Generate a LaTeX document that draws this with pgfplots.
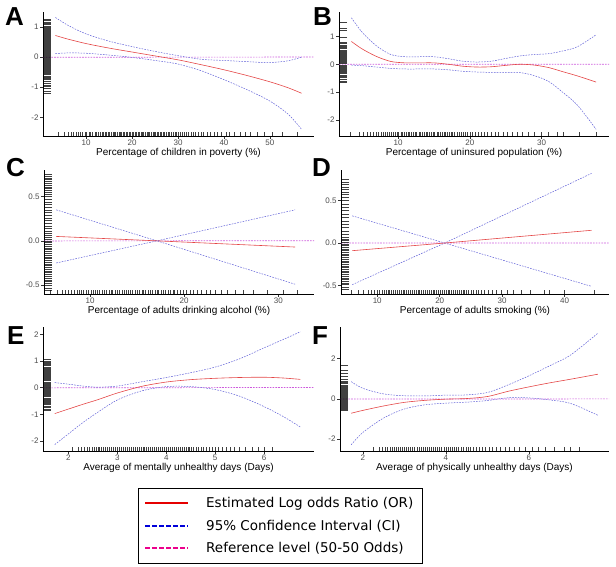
\documentclass[border=0pt]{standalone}
\usepackage{pgfplots}
\pgfplotsset{compat=1.18}
\usepackage{fontspec}
\setmainfont{Liberation Sans}
\newfontfamily\legendfont{DejaVu Sans}
\definecolor{fitred}{RGB}{228,70,70}
\definecolor{ciblue}{RGB}{95,95,215}
\definecolor{refmag}{RGB}{205,90,220}
\definecolor{ticklab}{RGB}{77,77,77}
\pgfplotsset{
 gam/.style={scale only axis, axis x line*=bottom, axis y line*=left,
   axis line style={black, line width=0.6pt},
   tick align=outside, major tick length=2.75pt,
   tick style={black!80, line width=0.5pt},
   /pgf/number format/assume math mode=true,
   tick label style={font=\fontsize{8}{9}\selectfont, text=ticklab},
   xticklabel style={inner sep=1pt},
   yticklabel style={inner sep=1.5pt},
   x label style={at={(axis description cs:0.5,0)}, anchor=center, yshift=-17pt, font=\fontsize{10}{12}\selectfont},
   clip=true,
 },
 fitline/.style={draw=fitred, line width=0.6pt, smooth, no marks},
 ciline/.style={draw=ciblue, line width=0.5pt, dash pattern=on 1.6pt off 1.2pt, smooth, no marks},
 refline/.style={draw=refmag, line width=0.7pt, dash pattern=on 1.6pt off 1.2pt, sharp plot, no marks},
 rugx/.style={only marks, mark=|, mark size=1.9pt, mark options={draw=black, draw opacity=0.75, line width=0.55pt, yshift=1.9pt}},
 rugy/.style={only marks, mark=-, mark size=4pt, mark options={draw=black, draw opacity=0.75, line width=0.55pt, xshift=4pt}},
}
\begin{document}
\begin{tikzpicture}
\path[use as bounding box] (0pt,0pt) rectangle (616pt,567pt);
% ---------------- A
\begin{axis}[gam, at={(43pt,431pt)}, anchor=south west, width=271pt, height=124pt,
  xmin=0.6, xmax=59.6, ymin=-2.62, ymax=1.5, xtick={10,20,30,40,50},
  ytick={-2,-1,0,1}, yticklabels={-2,-1,0,1},
  xlabel={Percentage of children in poverty (\%)}]
\addplot[rugy] table[row sep=\\, header=false, x expr=0.6, y index=0] {1.25\\1.21\\1.17\\1.12\\1.08\\1.04\\1.0\\0.97\\0.93\\0.9\\0.87\\0.83\\0.8\\0.77\\0.73\\0.7\\0.66\\0.63\\0.6\\0.56\\0.53\\0.5\\0.46\\0.43\\0.4\\0.36\\0.33\\0.3\\0.26\\0.23\\0.2\\0.16\\0.13\\0.1\\0.06\\0.03\\0.0\\-0.04\\-0.07\\-0.1\\-0.14\\-0.17\\-0.2\\-0.24\\-0.27\\-0.3\\-0.34\\-0.37\\-0.4\\-0.44\\-0.47\\-0.5\\-0.54\\-0.58\\-0.62\\-0.66\\-0.7\\-0.75\\-0.8\\-0.86\\-0.92\\-0.98\\-1.05\\-1.12\\-1.2\\};
\addplot[rugx] table[row sep=\\, header=false, x index=0, y expr=-2.62] {3.9\\5.3\\6.1\\6.8\\7.3\\7.9\\8.3\\8.8\\9.2\\9.7\\10.1\\10.6\\11.0\\11.4\\11.9\\12.3\\12.7\\13.0\\13.4\\13.7\\14.1\\14.4\\14.8\\15.1\\15.4\\15.8\\16.1\\16.4\\16.8\\17.1\\17.4\\17.7\\18.1\\18.4\\18.7\\19.0\\19.3\\19.7\\20.0\\20.3\\20.6\\20.9\\21.3\\21.6\\21.9\\22.2\\22.5\\22.9\\23.2\\23.5\\23.8\\24.1\\24.5\\24.8\\25.1\\25.4\\25.8\\26.1\\26.4\\26.7\\27.1\\27.4\\27.8\\28.1\\28.5\\28.9\\29.3\\29.7\\30.1\\30.5\\30.9\\31.4\\31.8\\32.3\\32.8\\33.3\\33.8\\34.4\\35.0\\35.6\\36.3\\37.0\\37.8\\38.6\\39.5\\40.4\\41.2\\42.3\\43.5\\44.6\\45.8\\47.2\\48.7\\50.5\\52.8\\56.0\\};
\addplot[refline] coordinates {(0.6,-0.002) (59.6,0.002)};
\addplot[ciline] coordinates {(3.3,1.32) (6,1.06) (10,0.77) (15,0.53) (20,0.35) (25,0.19) (30,0.05) (35,-0.07) (40,-0.11) (45,-0.15) (50,-0.18) (54,-0.12) (56.9,0.0)};
\addplot[ciline] coordinates {(3.3,0.12) (6,0.14) (10,0.13) (15,0.07) (20,-0.01) (25,-0.11) (30,-0.23) (35,-0.45) (40,-0.75) (45,-1.08) (50,-1.46) (54,-1.9) (56.9,-2.4)};
\addplot[fitline] coordinates {(3.3,0.72) (6,0.6) (10,0.45) (15,0.3) (20,0.17) (25,0.04) (30,-0.09) (35,-0.25) (40,-0.42) (45,-0.61) (50,-0.82) (54,-1.02) (56.9,-1.2)};
\end{axis}
% ---------------- B
\begin{axis}[gam, at={(339pt,431pt)}, anchor=south west, width=270pt, height=124pt,
  xmin=1.77, xmax=39.4, ymin=-2.58, ymax=1.88, xtick={10,20,30},
  ytick={-2,-1,0,1}, yticklabels={-2,-1,0,1},
  xlabel={Percentage of uninsured population (\%)}]
\addplot[rugy] table[row sep=\\, header=false, x expr=1.77, y index=0] {1.52\\1.3\\1.22\\0.98\\0.78\\0.74\\0.7\\0.65\\0.61\\0.56\\0.52\\0.48\\0.44\\0.4\\0.36\\0.33\\0.29\\0.25\\0.21\\0.17\\0.13\\0.1\\0.06\\0.02\\-0.02\\-0.06\\-0.1\\-0.14\\-0.18\\-0.22\\-0.26\\-0.3\\-0.34\\-0.38\\-0.42\\-0.47\\-0.53\\-0.6\\-0.66\\};
\addplot[rugx] table[row sep=\\, header=false, x index=0, y expr=-2.58] {3.4\\4.6\\5.2\\5.7\\6.1\\6.5\\6.9\\7.2\\7.6\\7.9\\8.2\\8.5\\8.8\\9.1\\9.3\\9.6\\9.9\\10.1\\10.4\\10.6\\10.9\\11.1\\11.4\\11.6\\11.9\\12.1\\12.4\\12.6\\12.9\\13.1\\13.4\\13.6\\13.9\\14.1\\14.4\\14.6\\14.9\\15.1\\15.4\\15.6\\15.9\\16.1\\16.4\\16.6\\16.9\\17.1\\17.4\\17.6\\17.9\\18.2\\18.5\\18.8\\19.1\\19.4\\19.7\\20.0\\20.4\\20.8\\21.2\\21.6\\22.0\\22.5\\23.0\\23.5\\24.0\\24.6\\25.2\\25.9\\26.6\\27.3\\28.1\\29.0\\29.9\\31.0\\32.2\\33.0\\35.3\\37.6\\};
\addplot[refline] coordinates {(1.77,-0.002) (39.4,0.002)};
\addplot[ciline] coordinates {(3.5,1.67) (5,1.15) (7,0.66) (9,0.35) (11,0.27) (13,0.27) (15,0.27) (17,0.2) (19,0.11) (21,0.08) (23,0.11) (25,0.21) (27,0.3) (29,0.35) (31,0.38) (33,0.48) (35,0.63) (37.6,1.06)};
\addplot[ciline] coordinates {(3.5,-0.03) (5,-0.05) (7,-0.1) (9,-0.15) (11,-0.17) (13,-0.17) (15,-0.17) (17,-0.2) (19,-0.25) (21,-0.28) (23,-0.29) (25,-0.29) (27,-0.3) (29,-0.41) (31,-0.62) (33,-1.02) (35,-1.47) (37.6,-2.34)};
\addplot[fitline] coordinates {(3.5,0.82) (5,0.55) (7,0.28) (9,0.1) (11,0.05) (13,0.05) (15,0.05) (17,0.0) (19,-0.07) (21,-0.1) (23,-0.09) (25,-0.04) (27,0.0) (29,-0.03) (31,-0.12) (33,-0.27) (35,-0.42) (37.6,-0.64)};
\end{axis}
% ---------------- C
\begin{axis}[gam, at={(44pt,273pt)}, anchor=south west, width=270pt, height=124pt,
  xmin=5.1, xmax=33.8, ymin=-0.6, ymax=0.8, xtick={10,20,30},
  ytick={-0.5,0,0.5}, yticklabels={-0.5,0.0,0.5},
  xlabel={Percentage of adults drinking alcohol (\%)}]
\addplot[rugy] table[row sep=\\, header=false, x expr=5.1, y index=0] {0.75\\0.73\\0.71\\0.69\\0.67\\0.65\\0.63\\0.61\\0.59\\0.57\\0.55\\0.53\\0.5\\0.47\\0.44\\0.41\\0.38\\0.35\\0.32\\0.29\\0.26\\0.23\\0.2\\0.17\\0.14\\0.11\\0.08\\0.06\\0.04\\0.02\\0.0\\-0.02\\-0.04\\-0.06\\-0.08\\-0.1\\-0.12\\-0.14\\-0.16\\-0.18\\-0.2\\-0.22\\-0.24\\-0.26\\-0.28\\-0.3\\-0.32\\-0.34\\-0.36\\-0.38\\-0.4\\-0.42\\-0.44\\-0.46\\-0.48\\-0.5\\-0.53\\-0.56\\};
\addplot[rugx] table[row sep=\\, header=false, x index=0, y expr=-0.6] {5.8\\6.5\\7.0\\7.4\\7.7\\8.0\\8.3\\8.6\\8.8\\9.1\\9.3\\9.6\\9.8\\10.1\\10.3\\10.6\\10.8\\11.0\\11.3\\11.5\\11.7\\12.0\\12.2\\12.4\\12.7\\12.9\\13.1\\13.4\\13.6\\13.8\\14.1\\14.3\\14.5\\14.8\\15.0\\15.2\\15.5\\15.7\\15.9\\16.2\\16.4\\16.6\\16.9\\17.1\\17.3\\17.6\\17.8\\18.0\\18.3\\18.5\\18.8\\19.0\\19.3\\19.6\\19.9\\20.2\\20.6\\21.0\\21.4\\21.8\\22.3\\22.8\\23.3\\23.9\\24.6\\25.4\\26.3\\27.3\\28.8\\30.5\\32.0\\};
\addplot[refline] coordinates {(5.1,-0.0007) (33.8,0.0007)};
\addplot[ciline, sharp plot] coordinates {(6.4,0.35) (17.1,0) (31.8,0.35)};
\addplot[ciline, sharp plot] coordinates {(6.4,-0.25) (17.1,0) (31.8,-0.49)};
\addplot[fitline, sharp plot] coordinates {(6.4,0.05) (17.1,0) (31.8,-0.07)};
\end{axis}
% ---------------- D
\begin{axis}[gam, at={(341pt,273pt)}, anchor=south west, width=268pt, height=124pt,
  xmin=4.2, xmax=47.1, ymin=-0.6, ymax=0.86, xtick={10,20,30,40},
  ytick={-0.5,0,0.5}, yticklabels={-0.5,0.0,0.5},
  xlabel={Percentage of adults smoking (\%)}]
\addplot[rugy] table[row sep=\\, header=false, x expr=4.2, y index=0] {0.75\\0.72\\0.69\\0.66\\0.63\\0.6\\0.57\\0.54\\0.5\\0.46\\0.42\\0.38\\0.34\\0.3\\0.26\\0.22\\0.18\\0.14\\0.1\\0.07\\0.05\\0.03\\0.01\\-0.01\\-0.03\\-0.05\\-0.07\\-0.09\\-0.11\\-0.13\\-0.15\\-0.17\\-0.19\\-0.21\\-0.23\\-0.25\\-0.27\\-0.29\\-0.31\\-0.33\\-0.35\\-0.37\\-0.39\\-0.41\\-0.43\\-0.45\\-0.47\\-0.49\\-0.52\\-0.55\\};
\addplot[rugx] table[row sep=\\, header=false, x index=0, y expr=-0.6] {5.8\\7.0\\7.8\\8.5\\9.1\\9.6\\10.0\\10.4\\10.8\\11.1\\11.4\\11.7\\12.0\\12.3\\12.6\\12.9\\13.2\\13.5\\13.8\\14.1\\14.4\\14.7\\15.0\\15.3\\15.6\\15.9\\16.2\\16.5\\16.8\\17.1\\17.4\\17.7\\18.0\\18.3\\18.6\\18.9\\19.2\\19.5\\19.8\\20.1\\20.4\\20.7\\21.0\\21.3\\21.6\\21.9\\22.2\\22.5\\22.8\\23.1\\23.4\\23.7\\24.0\\24.3\\24.6\\25.0\\25.4\\25.8\\26.2\\26.7\\27.2\\27.8\\28.4\\29.1\\29.9\\30.8\\31.8\\33.0\\34.5\\36.8\\37.5\\40.0\\44.8\\};
\addplot[refline] coordinates {(4.2,-0.0007) (47.1,0.0007)};
\addplot[ciline, sharp plot] coordinates {(6.0,0.32) (20.8,0) (44.3,0.82)};
\addplot[ciline, sharp plot] coordinates {(6.0,-0.49) (20.8,0) (44.3,-0.51)};
\addplot[fitline, sharp plot] coordinates {(6.0,-0.09) (20.8,0) (44.3,0.15)};
\end{axis}
% ---------------- E
\begin{axis}[gam, at={(43pt,116pt)}, anchor=south west, width=271pt, height=124pt,
  xmin=1.48, xmax=7.02, ymin=-2.37, ymax=2.27, xtick={2,3,4,5,6},
  ytick={-2,-1,0,1,2}, yticklabels={-2,-1,0,1,2},
  xlabel={Average of mentally unhealthy days (Days)}]
\addplot[rugy] table[row sep=\\, header=false, x expr=1.48, y index=0] {1.08\\1.0\\0.95\\0.9\\0.86\\0.82\\0.78\\0.74\\0.7\\0.66\\0.62\\0.58\\0.54\\0.5\\0.46\\0.42\\0.38\\0.34\\0.3\\0.26\\0.22\\0.18\\0.14\\0.1\\0.06\\0.02\\-0.02\\-0.06\\-0.1\\-0.14\\-0.18\\-0.22\\-0.26\\-0.3\\-0.34\\-0.38\\-0.42\\-0.46\\-0.5\\-0.54\\-0.58\\-0.63\\-0.68\\-0.74\\-0.8\\-0.86\\};
\addplot[rugx] table[row sep=\\, header=false, x index=0, y expr=-2.37] {2.07\\2.2\\2.27\\2.33\\2.38\\2.43\\2.48\\2.52\\2.56\\2.6\\2.64\\2.68\\2.72\\2.76\\2.8\\2.84\\2.88\\2.92\\2.96\\3.0\\3.04\\3.08\\3.12\\3.16\\3.2\\3.24\\3.28\\3.32\\3.36\\3.4\\3.44\\3.48\\3.52\\3.56\\3.6\\3.64\\3.68\\3.72\\3.76\\3.8\\3.84\\3.88\\3.92\\3.96\\4.0\\4.04\\4.08\\4.12\\4.16\\4.2\\4.24\\4.28\\4.32\\4.36\\4.4\\4.44\\4.48\\4.52\\4.56\\4.61\\4.66\\4.71\\4.76\\4.82\\4.88\\4.94\\5.0\\5.07\\5.14\\5.22\\5.3\\5.4\\5.5\\5.62\\5.75\\5.88\\6.0\\6.16\\};
\addplot[refline] coordinates {(1.48,-0.008) (7.02,0.008)};
\addplot[ciline] coordinates {(1.72,0.19) (2.0,0.13) (2.3,0.06) (2.6,0.02) (3.0,0.06) (3.5,0.22) (4.0,0.38) (4.5,0.56) (5.0,0.77) (5.5,1.08) (6.0,1.49) (6.4,1.81) (6.74,2.09)};
\addplot[ciline] coordinates {(1.72,-2.13) (2.0,-1.73) (2.3,-1.3) (2.6,-0.92) (3.0,-0.46) (3.5,-0.12) (4.0,0.04) (4.5,0.04) (5.0,-0.07) (5.5,-0.32) (6.0,-0.71) (6.4,-1.09) (6.74,-1.47)};
\addplot[fitline] coordinates {(1.72,-0.97) (2.0,-0.8) (2.3,-0.62) (2.6,-0.45) (3.0,-0.2) (3.5,0.05) (4.0,0.21) (4.5,0.3) (5.0,0.35) (5.5,0.38) (6.0,0.39) (6.4,0.36) (6.74,0.31)};
\end{axis}
% ---------------- F
\begin{axis}[gam, at={(340pt,116pt)}, anchor=south west, width=269pt, height=124pt,
  xmin=1.45, xmax=7.93, ymin=-2.59, ymax=3.58, xtick={2,4,6},
  ytick={-2,0,2}, yticklabels={-2,0,2},
  xlabel={Average of physically unhealthy days (Days)}]
\addplot[rugy] table[row sep=\\, header=false, x expr=1.45, y index=0] {1.7\\1.45\\1.3\\1.15\\1.0\\0.9\\0.82\\0.76\\0.7\\0.65\\0.6\\0.55\\0.5\\0.45\\0.4\\0.35\\0.3\\0.25\\0.2\\0.15\\0.1\\0.05\\0.0\\-0.05\\-0.1\\-0.15\\-0.2\\-0.25\\-0.3\\-0.35\\-0.4\\-0.45\\-0.5\\-0.56\\};
\addplot[rugx] table[row sep=\\, header=false, x index=0, y expr=-2.59] {2.24\\2.4\\2.48\\2.55\\2.6\\2.65\\2.7\\2.75\\2.8\\2.85\\2.9\\2.95\\3.0\\3.05\\3.1\\3.15\\3.2\\3.25\\3.3\\3.35\\3.4\\3.45\\3.5\\3.55\\3.6\\3.65\\3.7\\3.75\\3.8\\3.85\\3.9\\3.95\\4.0\\4.05\\4.1\\4.15\\4.2\\4.25\\4.3\\4.36\\4.42\\4.48\\4.54\\4.6\\4.67\\4.74\\4.81\\4.88\\4.96\\5.04\\5.13\\5.22\\5.32\\5.42\\5.53\\5.65\\5.78\\5.92\\6.07\\6.23\\6.4\\6.6\\6.85\\7.0\\7.22\\};
\addplot[refline] coordinates {(1.45,-0.003) (7.93,0.003)};
\addplot[ciline] coordinates {(1.72,0.86) (2.0,0.53) (2.5,0.25) (3.0,0.16) (3.5,0.15) (4.0,0.19) (4.5,0.2) (5.0,0.32) (5.5,0.7) (6.0,1.15) (6.5,1.65) (7.0,2.18) (7.66,3.27)};
\addplot[ciline] coordinates {(1.72,-2.28) (2.0,-1.67) (2.5,-0.95) (3.0,-0.5) (3.5,-0.29) (4.0,-0.21) (4.5,-0.16) (5.0,-0.08) (5.5,0.06) (6.0,0.05) (6.5,-0.05) (7.0,-0.22) (7.66,-0.81)};
\addplot[fitline] coordinates {(1.72,-0.71) (2.0,-0.57) (2.5,-0.35) (3.0,-0.17) (3.5,-0.07) (4.0,-0.01) (4.5,0.02) (5.0,0.12) (5.5,0.38) (6.0,0.6) (6.5,0.8) (7.0,0.98) (7.66,1.23)};
\end{axis}
% ---------------- panel letters
\begin{scope}[every node/.style={anchor=base west, inner sep=0pt, font=\fontsize{26}{26}\selectfont\bfseries}]
\node at (5pt,541pt) {A};
\node at (313pt,541pt) {B};
\node at (6pt,390pt) {C};
\node at (312pt,390pt) {D};
\node at (7pt,222pt) {E};
\node at (312pt,222pt) {F};
\end{scope}
% ---------------- legend
\draw[black, line width=0.8pt] (138pt,4pt) rectangle (422pt,79pt);
\draw[red!90!black, line width=1.3pt] (145pt,64pt) -- (188pt,64pt);
\draw[blue!85!black, line width=1.1pt, dash pattern=on 4.5pt off 2.5pt] (145pt,41pt) -- (188pt,41pt);
\draw[magenta, line width=1.1pt, dash pattern=on 4.5pt off 2.5pt] (145pt,19pt) -- (188pt,19pt);
\begin{scope}[every node/.style={anchor=base west, inner sep=0pt, font=\legendfont\fontsize{13.5}{16}\selectfont}]
\node at (206pt,59pt) {Estimated Log odds Ratio (OR)};
\node at (206pt,36pt) {95\% Confidence Interval (CI)};
\node at (206pt,14pt) {Reference level (50-50 Odds)};
\end{scope}
\end{tikzpicture}
\end{document}
